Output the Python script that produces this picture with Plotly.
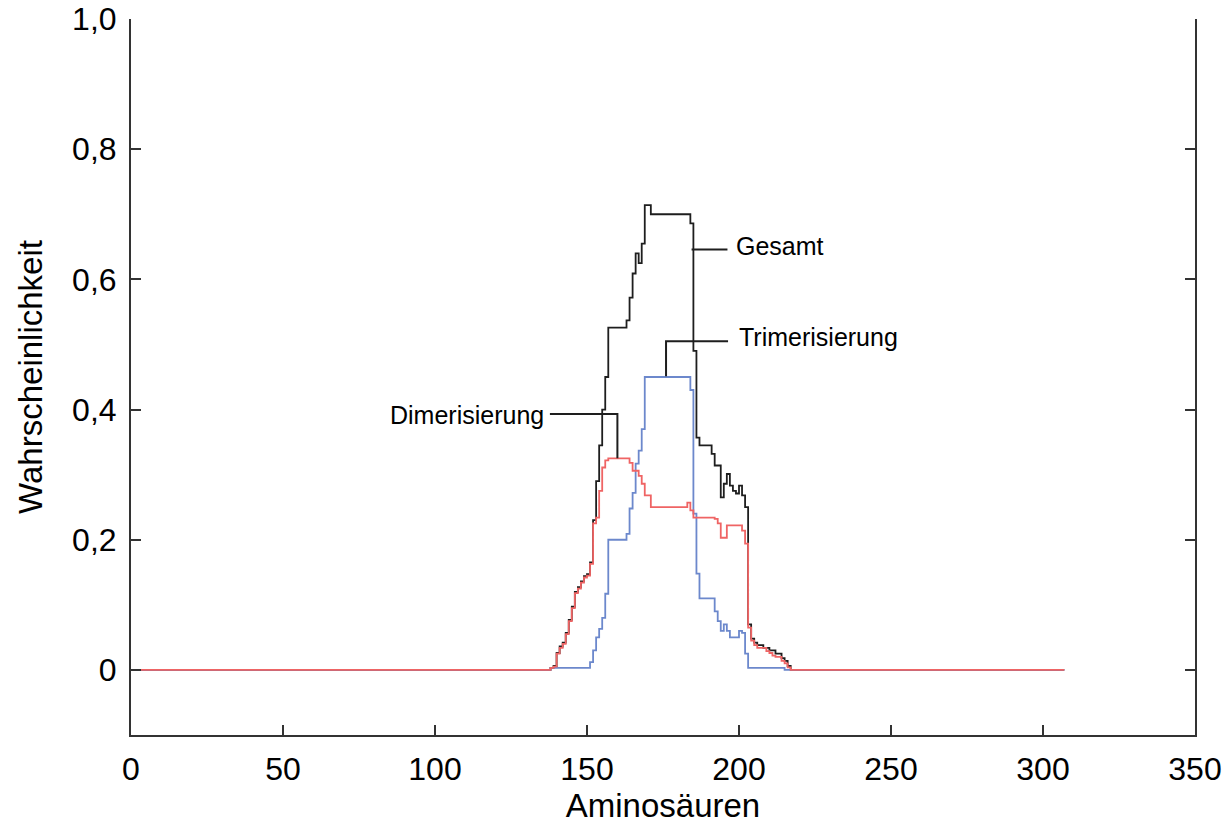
import plotly.graph_objects as go

# ---------------- data ----------------
gesamt_x = [0, 137, 138, 139, 140, 141, 142, 143, 144, 145, 146, 147, 148, 149, 150, 151, 152, 153, 154, 155,
            156, 157, 163, 164, 165, 166, 167, 168, 169, 171, 184, 185, 186, 187, 191, 192, 194, 195, 196, 197,
            198, 199, 200, 201, 202, 203, 204, 205, 206, 208, 210, 212, 214, 215, 216, 217, 307]
gesamt_y = [0, 0, 0.003, 0.006, 0.026, 0.036, 0.042, 0.057, 0.077, 0.097, 0.12, 0.127, 0.136, 0.144, 0.147,
            0.165, 0.23, 0.29, 0.345, 0.40, 0.45, 0.526, 0.537, 0.572, 0.609, 0.64, 0.625, 0.655, 0.714, 0.70,
            0.686, 0.49, 0.357, 0.345, 0.332, 0.314, 0.265, 0.286, 0.301, 0.283, 0.275, 0.271, 0.283, 0.268,
            0.25, 0.07, 0.048, 0.042, 0.038, 0.034, 0.03, 0.025, 0.018, 0.014, 0.006, 0, 0]

trimer_x = [0, 138, 151, 152, 153, 154, 155, 156, 157, 163, 164, 165, 166, 167, 168, 169, 184, 185, 186, 187,
            192, 193, 194, 195, 196, 197, 200, 201, 202, 203, 215, 307]
trimer_y = [0, 0.003, 0.012, 0.03, 0.05, 0.063, 0.08, 0.117, 0.2, 0.209, 0.248, 0.272, 0.317, 0.337, 0.37,
            0.45, 0.43, 0.24, 0.148, 0.11, 0.09, 0.075, 0.06, 0.07, 0.06, 0.05, 0.06, 0.057, 0.025, 0.003, 0, 0]

dimer_x = [0, 137, 138, 139, 140, 141, 142, 143, 144, 145, 146, 147, 148, 149, 150, 151, 152, 153, 154, 155,
           156, 157, 164, 165, 167, 168, 169, 171, 183, 184, 185, 192, 193, 194, 196, 201, 202, 203, 204, 205,
           206, 209, 210, 211, 212, 214, 215, 216, 217, 307]
dimer_y = [0, 0, 0.003, 0.005, 0.025, 0.034, 0.04, 0.055, 0.075, 0.095, 0.118, 0.125, 0.134, 0.142, 0.145,
           0.163, 0.225, 0.234, 0.275, 0.311, 0.322, 0.325, 0.318, 0.306, 0.298, 0.286, 0.268, 0.25, 0.257,
           0.245, 0.234, 0.232, 0.225, 0.203, 0.222, 0.214, 0.194, 0.065, 0.045, 0.038, 0.034, 0.029, 0.026,
           0.022, 0.02, 0.014, 0.01, 0.004, 0, 0]

x_ticks = [0, 50, 100, 150, 200, 250, 300, 350]
y_ticks = [0, 0.2, 0.4, 0.6, 0.8, 1.0]
y_ticktext = ["0", "0,2", "0,4", "0,6", "0,8", "1,0"]

# callout labels
label_names = ["Gesamt", "Trimerisierung", "Dimerisierung"]

FONT = "Arial, 'Liberation Sans', Helvetica, sans-serif"
BLACK = "#1e1e1e"
RED = "#ef6464"
BLUE = "#6c88cc"

fig = go.Figure()
fig.add_trace(go.Scatter(x=gesamt_x, y=gesamt_y, mode="lines", line=dict(color=BLACK, width=1.8, shape="hv"),
                         name="Gesamt", showlegend=False))
fig.add_trace(go.Scatter(x=trimer_x, y=trimer_y, mode="lines", line=dict(color=BLUE, width=1.8, shape="hv"),
                         name="Trimerisierung", showlegend=False))
fig.add_trace(go.Scatter(x=dimer_x, y=dimer_y, mode="lines", line=dict(color=RED, width=1.8, shape="hv"),
                         name="Dimerisierung", showlegend=False))

# callout leader lines
lw = 2
shapes = [
    dict(type="path", path="M 184.4 0.646 L 196.2 0.646", line=dict(color=BLACK, width=lw)),
    dict(type="path", path="M 176.0 0.451 L 176.0 0.505 L 196.4 0.505", line=dict(color=BLACK, width=lw)),
    dict(type="path", path="M 137.8 0.393 L 160.0 0.393 L 160.0 0.325", line=dict(color=BLACK, width=lw)),
]
for s in shapes:
    s.update(xref="x", yref="y", layer="above")

annotations = [
    dict(x=198.3, y=0.652, text=label_names[0], xanchor="left"),
    dict(x=199.2, y=0.511, text=label_names[1], xanchor="left"),
    dict(x=136.4, y=0.392, text=label_names[2], xanchor="right"),
]
for a in annotations:
    a.update(xref="x", yref="y", showarrow=False, yanchor="middle",
             font=dict(family=FONT, size=25, color="#000"))

fig.update_layout(
    width=1231, height=825,
    margin=dict(l=131, r=36, t=19, b=90, autoexpand=False),
    paper_bgcolor="white", plot_bgcolor="white",
    font=dict(family=FONT, color="#000"),
    shapes=shapes, annotations=annotations,
    xaxis=dict(
        range=[0, 350], tickvals=x_ticks, ticks="inside", ticklen=10, tickwidth=2, tickcolor="#333",
        showline=True, linecolor="#333", linewidth=2, mirror=False, showgrid=False, zeroline=False,
        automargin=False,
        tickfont=dict(family=FONT, size=32, color="#000"), ticklabelstandoff=5,
        title=dict(text="Aminosäuren", font=dict(family=FONT, size=33, color="#000"), standoff=4),
    ),
    yaxis=dict(
        range=[-0.1, 1.0], tickvals=y_ticks, ticktext=y_ticktext, ticks="inside", ticklen=10, tickwidth=2,
        tickcolor="#333", showline=True, linecolor="#333", linewidth=2, mirror="ticks", showgrid=False,
        zeroline=False, automargin=False, tickfont=dict(family=FONT, size=32, color="#000"),
        ticklabelstandoff=6,
        title=dict(text="Wahrscheinlichkeit", font=dict(family=FONT, size=33, color="#000"), standoff=20),
    ),
)

fig.write_html("out.html", config={"displayModeBar": False},
               post_script="document.body.style.margin='0';document.body.style.overflow='hidden';")
